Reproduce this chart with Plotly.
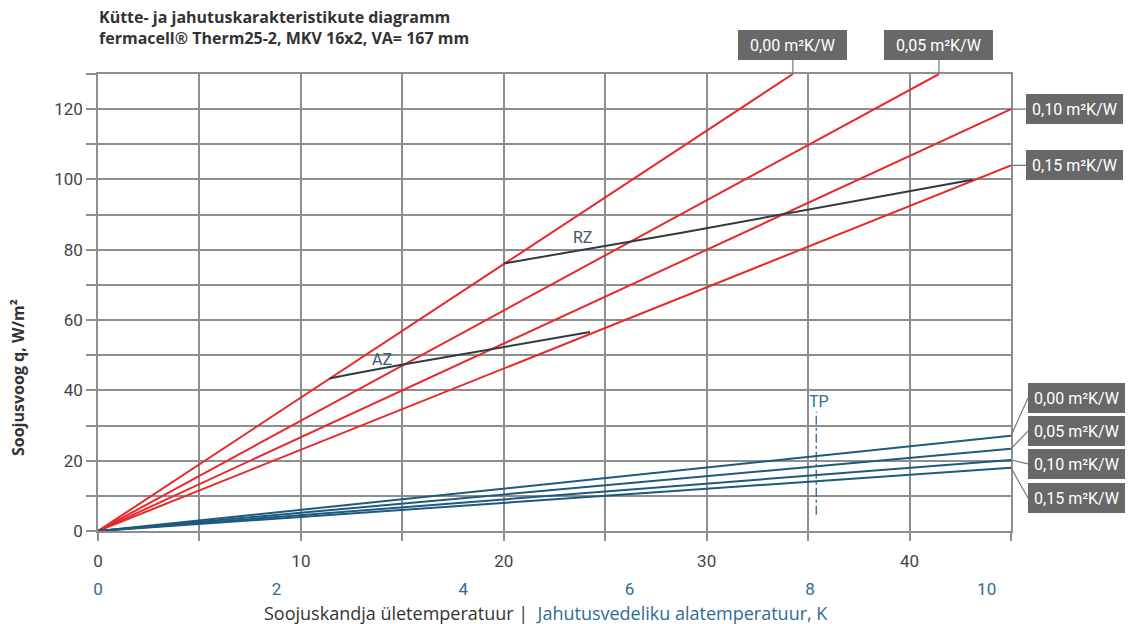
import plotly.graph_objects as go

# ---------------- data ----------------
resist_labels = ["0,00 m²K/W", "0,05 m²K/W", "0,10 m²K/W", "0,15 m²K/W"]

# heating lines (red): start at origin, end points
heat_x_end = [34.25, 41.45, 45.0, 45.0]
heat_y_end = [130.0, 130.0, 120.0, 104.0]

# cooling lines (blue): start at origin, end points
cool_x_end = [45.0, 45.0, 45.0, 45.0]
cool_y_end = [27.1, 23.4, 20.2, 18.0]

# boundary curves
rz_x = [20.0, 28.7, 43.1]
rz_y = [76.1, 84.8, 99.9]
az_x = [11.4, 14.9, 24.25]
az_y = [43.4, 47.2, 56.6]

# TP marker
tp_x = [35.4, 35.4]
tp_y = [4.6, 33.9]

# axes
x_top_ticks = [0, 10, 20, 30, 40]
x_grid = [0, 5, 10, 15, 20, 25, 30, 35, 40, 45]
y_grid = [0, 10, 20, 30, 40, 50, 60, 70, 80, 90, 100, 110, 120, 130]
y_labels = [0, 20, 40, 60, 80, 100, 120]
cool_tick_labels = ["0", "2", "4", "6", "8", "10"]
cool_tick_pos = [0, 8.8, 18.0, 26.2, 35.1, 43.8]

# label box centres for cooling labels (in y units)
cool_box_y = [37.8, 28.4, 19.1, 9.4]

RED = "#e8282b"
BLUE = "#1d5a7e"
DARK = "#2f3b40"
GRID = "#8e8e8e"
TXT = "#333333"
LBLUE = "#2f6b96"
BOX = "#686868"
FONT = "Roboto"
NARROW = "Liberation Sans Narrow, Roboto, sans-serif"
WIDE = "Open Sans, Roboto, sans-serif"

fig = go.Figure()

for xe, ye in zip(heat_x_end, heat_y_end):
    fig.add_trace(go.Scatter(x=[0, xe], y=[0, ye], mode="lines",
                             line=dict(color=RED, width=2), showlegend=False, hoverinfo="skip"))
for xe, ye in zip(cool_x_end, cool_y_end):
    fig.add_trace(go.Scatter(x=[0, xe], y=[0, ye], mode="lines", xaxis="x2",
                             line=dict(color=BLUE, width=2), showlegend=False, hoverinfo="skip"))

fig.add_trace(go.Scatter(x=rz_x, y=rz_y, mode="lines", line=dict(color=DARK, width=2, shape="spline"),
                         showlegend=False, hoverinfo="skip"))
fig.add_trace(go.Scatter(x=az_x, y=az_y, mode="lines", line=dict(color=DARK, width=2, shape="spline"),
                         showlegend=False, hoverinfo="skip"))
fig.add_trace(go.Scatter(x=tp_x, y=tp_y, mode="lines", xaxis="x2",
                         line=dict(color=BLUE, width=1.2, dash="dashdot"),
                         showlegend=False, hoverinfo="skip"))

# text labels on the chart
fig.add_annotation(x=23.9, y=83.5, text="RZ", showarrow=False, font=dict(family=FONT, size=16, color="#3d5568"))
fig.add_annotation(x=14.0, y=48.7, text="AZ", showarrow=False, font=dict(family=FONT, size=16, color="#3d5568"))
fig.add_annotation(x=35.55, y=36.9, text="TP", showarrow=False, font=dict(family=FONT, size=16, color=LBLUE))

PX_PER_Y = 457 / 130.0
box_font = dict(family=FONT, size=16, color="white")

# top boxes for red lines ending at top
for i in range(2):
    fig.add_annotation(x=heat_x_end[i], y=heat_y_end[i], text=resist_labels[i],
                       showarrow=True, arrowhead=0, arrowwidth=1.2, arrowcolor="#777777",
                       ax=0, ay=-14, xanchor="center", yanchor="bottom",
                       bgcolor=BOX, bordercolor=BOX, borderpad=5, width=97, height=18,
                       font=box_font)
# right boxes for red lines ending at right
for i in range(2, 4):
    fig.add_annotation(x=heat_x_end[i], y=heat_y_end[i], text=resist_labels[i],
                       showarrow=True, arrowhead=0, arrowwidth=1.2, arrowcolor="#777777",
                       ax=15, ay=0, xanchor="left", yanchor="middle",
                       bgcolor=BOX, bordercolor=BOX, borderpad=5, width=85, height=18,
                       font=box_font)
# right boxes for cooling lines
for i in range(4):
    fig.add_annotation(x=cool_x_end[i], y=cool_y_end[i], xref="x2", text=resist_labels[i],
                       showarrow=True, arrowhead=0, arrowwidth=1.2, arrowcolor="#777777",
                       ax=17, ay=-(cool_box_y[i] - cool_y_end[i]) * PX_PER_Y,
                       xanchor="left", yanchor="middle",
                       bgcolor=BOX, bordercolor=BOX, borderpad=5, width=85, height=18,
                       font=box_font)

# title (two lines, one block)
fig.add_annotation(xref="paper", yref="paper", x=-0.001, y=1 + (74 - 28) / 457.0,
                   xanchor="left", yanchor="middle", align="left", showarrow=False,
                   text="<b>Kütte- ja jahutuskarakteristikute diagramm<br>fermacell® Therm25-2, MKV 16x2, VA= 167 mm</b>",
                   font=dict(family=WIDE, size=16, color=TXT))
# y title
fig.add_annotation(xref="paper", yref="paper", x=(18 - 98) / 913.0, y=(531 - 378) / 457.0,
                   xanchor="center", yanchor="middle", textangle=-90, showarrow=False,
                   text="<b>Soojusvoog q, W/m²</b>", font=dict(family=WIDE, size=16, color=TXT))
# x title
fig.add_annotation(xref="paper", yref="paper", x=(546 - 98) / 913.0, y=-(613 - 531) / 457.0,
                   xanchor="center", yanchor="middle", showarrow=False,
                   text="Soojuskandja ületemperatuur |  <span style='color:%s'>Jahutusvedeliku alatemperatuur, K</span>" % LBLUE,
                   font=dict(family=WIDE, size=18, color=TXT))

fig.update_layout(
    width=1131, height=624,
    margin=dict(l=98, r=120, t=74, b=93),
    paper_bgcolor="white", plot_bgcolor="white",
    xaxis=dict(range=[0, 45], tickvals=x_grid,
               ticktext=[str(v) if v in x_top_ticks else "" for v in x_grid],
               showgrid=True, gridcolor=GRID, gridwidth=1.5,
               showline=True, linecolor=GRID, linewidth=1.5, mirror=True,
               ticks="outside", ticklen=8, tickcolor=GRID, tickwidth=1.5,
               ticklabelstandoff=6, zeroline=False,
               tickfont=dict(family=NARROW, size=17, color="#444444")),
    xaxis2=dict(range=[0, 45], overlaying="x", side="bottom", anchor="y",
                tickvals=cool_tick_pos, ticktext=cool_tick_labels,
                showgrid=False, showline=False, zeroline=False, ticks="",
                ticklabelstandoff=46,
                tickfont=dict(family=NARROW, size=17, color=LBLUE)),
    yaxis=dict(range=[0, 130], tickvals=y_grid,
               ticktext=[str(v) if v in y_labels else "" for v in y_grid],
               showgrid=True, gridcolor=GRID, gridwidth=1.5,
               showline=True, linecolor=GRID, linewidth=1.5, mirror=True,
               ticks="outside", ticklen=10, tickcolor=GRID, tickwidth=1.5,
               zeroline=False,
               tickfont=dict(family=NARROW, size=17, color="#444444")),
)

fig.write_html("out.html", config={"displayModeBar": False},
               post_script="document.body.style.margin='0';document.body.style.overflow='hidden';")
